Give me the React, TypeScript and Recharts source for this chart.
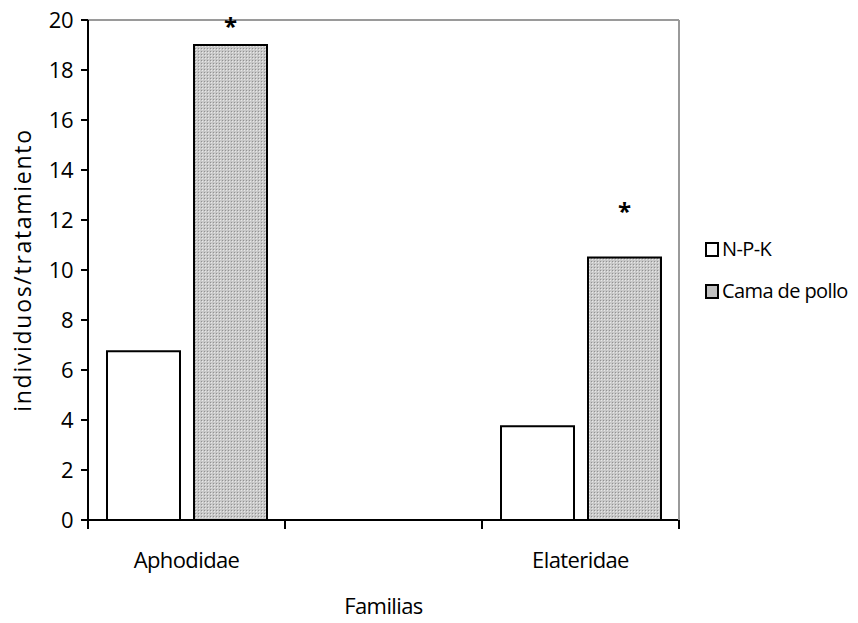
import React from 'react';
import { ComposedChart, Bar, XAxis, YAxis, ReferenceLine, LabelList } from 'recharts';

const categories = ['Aphodidae', ' ', 'Elateridae'];
const npkValues = [6.75, null, 3.75];
const camaValues = [19, null, 10.5];
const asteriskLevels = [19.9, null, 12.5];
const yTicks = [0, 2, 4, 6, 8, 10, 12, 14, 16, 18, 20];
const seriesNames = ['N-P-K', 'Cama de pollo'];

const data = categories.map((c, i) => ({
  name: c,
  npk: npkValues[i],
  cama: camaValues[i],
  ast: asteriskLevels[i],
}));

const FONT = '"Open Sans", sans-serif';
const TICK_MARGIN = 32;
const TICK_LEN = 9;

const AsteriskLabel = (props: any) => {
  const { x, y, width, height, value } = props;
  if (!Array.isArray(value)) return null;
  const [v, a] = value;
  if (v == null || a == null) return null;
  const pxPerUnit = height / v;
  const cy = y - (a - v) * pxPerUnit;
  return (
    <text x={x + width / 2} y={cy} textAnchor="middle" fontFamily={FONT} fontSize={24} fontWeight={700} fill="#000" dy={12}>
      *
    </text>
  );
};

const CategoryTick = (props: any) => {
  const { x, y, payload, index, visibleTicksCount, width } = props;
  const band = width / visibleTicksCount;
  const y0 = y - TICK_MARGIN;
  const left = x - band / 2;
  const right = x + band / 2;
  return (
    <g>
      <line x1={left} x2={left} y1={y0} y2={y0 + TICK_LEN} stroke="#000" strokeWidth={2} />
      {index === visibleTicksCount - 1 && (
        <line x1={right} x2={right} y1={y0} y2={y0 + TICK_LEN} stroke="#000" strokeWidth={2} />
      )}
      <text x={x} y={y} dy="0.71em" textAnchor="middle" fontFamily={FONT} fontSize={22} letterSpacing={-0.6} fill="#000">
        {payload.value}
      </text>
    </g>
  );
};

const YTitle = (props: any) => {
  const vb = props.viewBox;
  const cx = vb.x + 22;
  const cy = vb.y + vb.height / 2;
  return (
    <text x={cx} y={cy} transform={`rotate(-90 ${cx} ${cy})`} textAnchor="middle" dominantBaseline="central" fontFamily={FONT} fontSize={23} letterSpacing={1.7} fill="#000">
      individuos/tratamiento
    </text>
  );
};

export default function App() {
  return (
    <div style={{ position: 'absolute', left: 0, top: 0, width: 858, height: 623, background: '#fff' }}>
      <ComposedChart width={858} height={623} data={data} margin={{ top: 20, right: 178, bottom: 102, left: 0 }} barCategoryGap={19} barGap={14}>
        <defs>
          <pattern id="dots" width="3" height="3" patternUnits="userSpaceOnUse">
            <rect width="3" height="3" fill="#c8c8c8" />
            <rect x="0" y="0" width="1" height="1" fill="#929292" />
            <rect x="1" y="1" width="1" height="1" fill="#e8e8e8" />
          </pattern>
        </defs>
        <ReferenceLine y={20} stroke="#9a9a9a" strokeWidth={2} />
        <XAxis
          dataKey="name"
          height={1}
          axisLine={{ stroke: '#000', strokeWidth: 2 }}
          tickLine={false}
          tickSize={0}
          tickMargin={TICK_MARGIN}
          tick={<CategoryTick />}
          interval={0}
          label={{ value: 'Familias', position: 'bottom', offset: 77, style: { fontFamily: FONT, fontSize: 22, fill: '#000', letterSpacing: -0.6 } }}
        />
        <YAxis
          width={88}
          domain={[0, 20]}
          ticks={yTicks}
          interval={0}
          axisLine={{ stroke: '#000', strokeWidth: 2 }}
          tickLine={{ stroke: '#000', strokeWidth: 2 }}
          tickSize={7}
          tickMargin={8}
          tick={{ fontFamily: FONT, fontSize: 22, fill: '#000', letterSpacing: -0.5 }}
          label={<YTitle />}
        />
        <YAxis
          yAxisId="r"
          orientation="right"
          width={1}
          domain={[0, 20]}
          tick={false}
          tickLine={false}
          axisLine={{ stroke: '#9a9a9a', strokeWidth: 2 }}
        />
        <Bar dataKey="npk" name={seriesNames[0]} fill="#ffffff" stroke="#000" strokeWidth={2} isAnimationActive={false} />
        <Bar dataKey="cama" name={seriesNames[1]} fill="url(#dots)" stroke="#000" strokeWidth={2} isAnimationActive={false}>
          <LabelList dataKey={(d: any) => [d.cama, d.ast]} content={<AsteriskLabel />} />
        </Bar>
      </ComposedChart>
      <div style={{ position: 'absolute', left: 705, top: 238, fontFamily: FONT, fontSize: 20, color: '#000', lineHeight: '22px' }}>
        {seriesNames.map((n, i) => (
          <div key={n} style={{ display: 'flex', alignItems: 'center', height: 22, marginBottom: 20 }}>
            <span style={{ display: 'inline-block', boxSizing: 'border-box', width: 14, height: 15, border: '2px solid #000', background: i === 0 ? '#fff' : '#c0c0c0', marginRight: 3 }} />
            <span style={{ letterSpacing: -0.6 }}>{n}</span>
          </div>
        ))}
      </div>
    </div>
  );
}
